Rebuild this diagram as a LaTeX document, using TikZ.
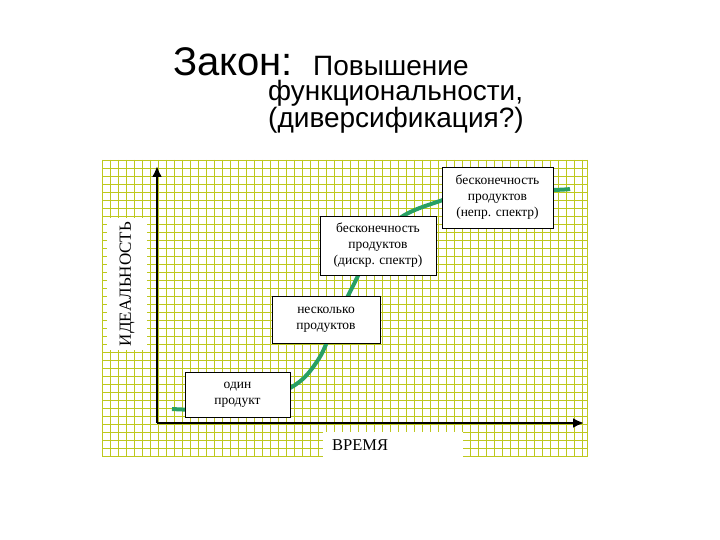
\documentclass[tikz,border=0pt]{standalone}
\usepackage{fontspec}
\usetikzlibrary{arrows.meta}
\setmainfont{Liberation Serif}
\newfontfamily\arialf{Liberation Sans}
\begin{document}
\begin{tikzpicture}[x=1pt,y=-1pt,
  bx/.style={draw=black,fill=white,line width=0.8pt,align=center,font=\fontsize{13.5}{16}\selectfont,inner sep=0pt},
  ax/.style={line width=2.4pt,-{Latex[length=11pt,width=10pt]}}]
\useasboundingbox (0,0) rectangle (720,540);
\fill[white] (0,0) rectangle (720,540);
\fill[white] (102,160) rectangle (587,457);
\foreach \x in {102,110,...,587} \draw[color={rgb,255:red,190;green,200;blue,30},line width=0.6pt] (\x,160) -- (\x,457);
\foreach \y in {160,168,...,457} \draw[color={rgb,255:red,190;green,200;blue,30},line width=0.6pt] (102,\y) -- (587,\y);
\draw[color={rgb,255:red,190;green,200;blue,30},line width=0.6pt] (587,160) -- (587,457);
\node[font=\arialf\fontsize{40}{40}\selectfont,anchor=base west,inner sep=0pt] (t1) at (173,76) {Закон:};
\node[font=\arialf\fontsize{28}{28}\selectfont,anchor=base west,inner sep=0pt] (t2) at (313,76) {Повышение};
\node[font=\arialf\fontsize{28}{25}\selectfont,anchor=north west,align=left,inner sep=0pt] (t3) at (268,80) {функциональности,\\(диверсификация?)};
\draw[color={rgb,255:red,40;green,160;blue,100},line width=4pt] plot[smooth,tension=0.6] coordinates {(172,409) (230,408) (290,388) (318,360) (335,322) (352,288) (372,250) (400,218) (440,201) (475,192) (553,190) (570,189)};
\coordinate (o) at (157,423);
\coordinate (ytop) at (157,166);
\coordinate (xend) at (584,423);
\draw[ax] (o) -- (ytop);
\draw[ax] (o) -- (xend);
\node[bx,minimum width=105pt,minimum height=45pt] (b1) at (237.5,394.5) {один\\продукт};
\node[bx,minimum width=108pt,minimum height=47pt] (b2) at (326,319.5) {несколько\\продуктов};
\node[bx,minimum width=116pt,minimum height=59pt] (b3) at (378,245.5) {бесконечность\\продуктов\\(дискр. спектр)};
\node[bx,minimum width=111pt,minimum height=61pt] (b4) at (497.5,197.5) {бесконечность\\продуктов\\(непр. спектр)};
\node[fill=white,minimum width=40pt,minimum height=132pt,inner sep=0pt] (yl) at (127,284) {};
\node[rotate=90,font=\fontsize{17}{18}\selectfont] at (yl) {ИДЕАЛЬНОСТЬ};
\node[fill=white,minimum width=140pt,minimum height=25pt,inner sep=0pt] (xl) at (393,444) {};
\node[font=\fontsize{16.5}{18}\selectfont,anchor=west,inner sep=0pt] at (332,445) {ВРЕМЯ};
\end{tikzpicture}
\end{document}
